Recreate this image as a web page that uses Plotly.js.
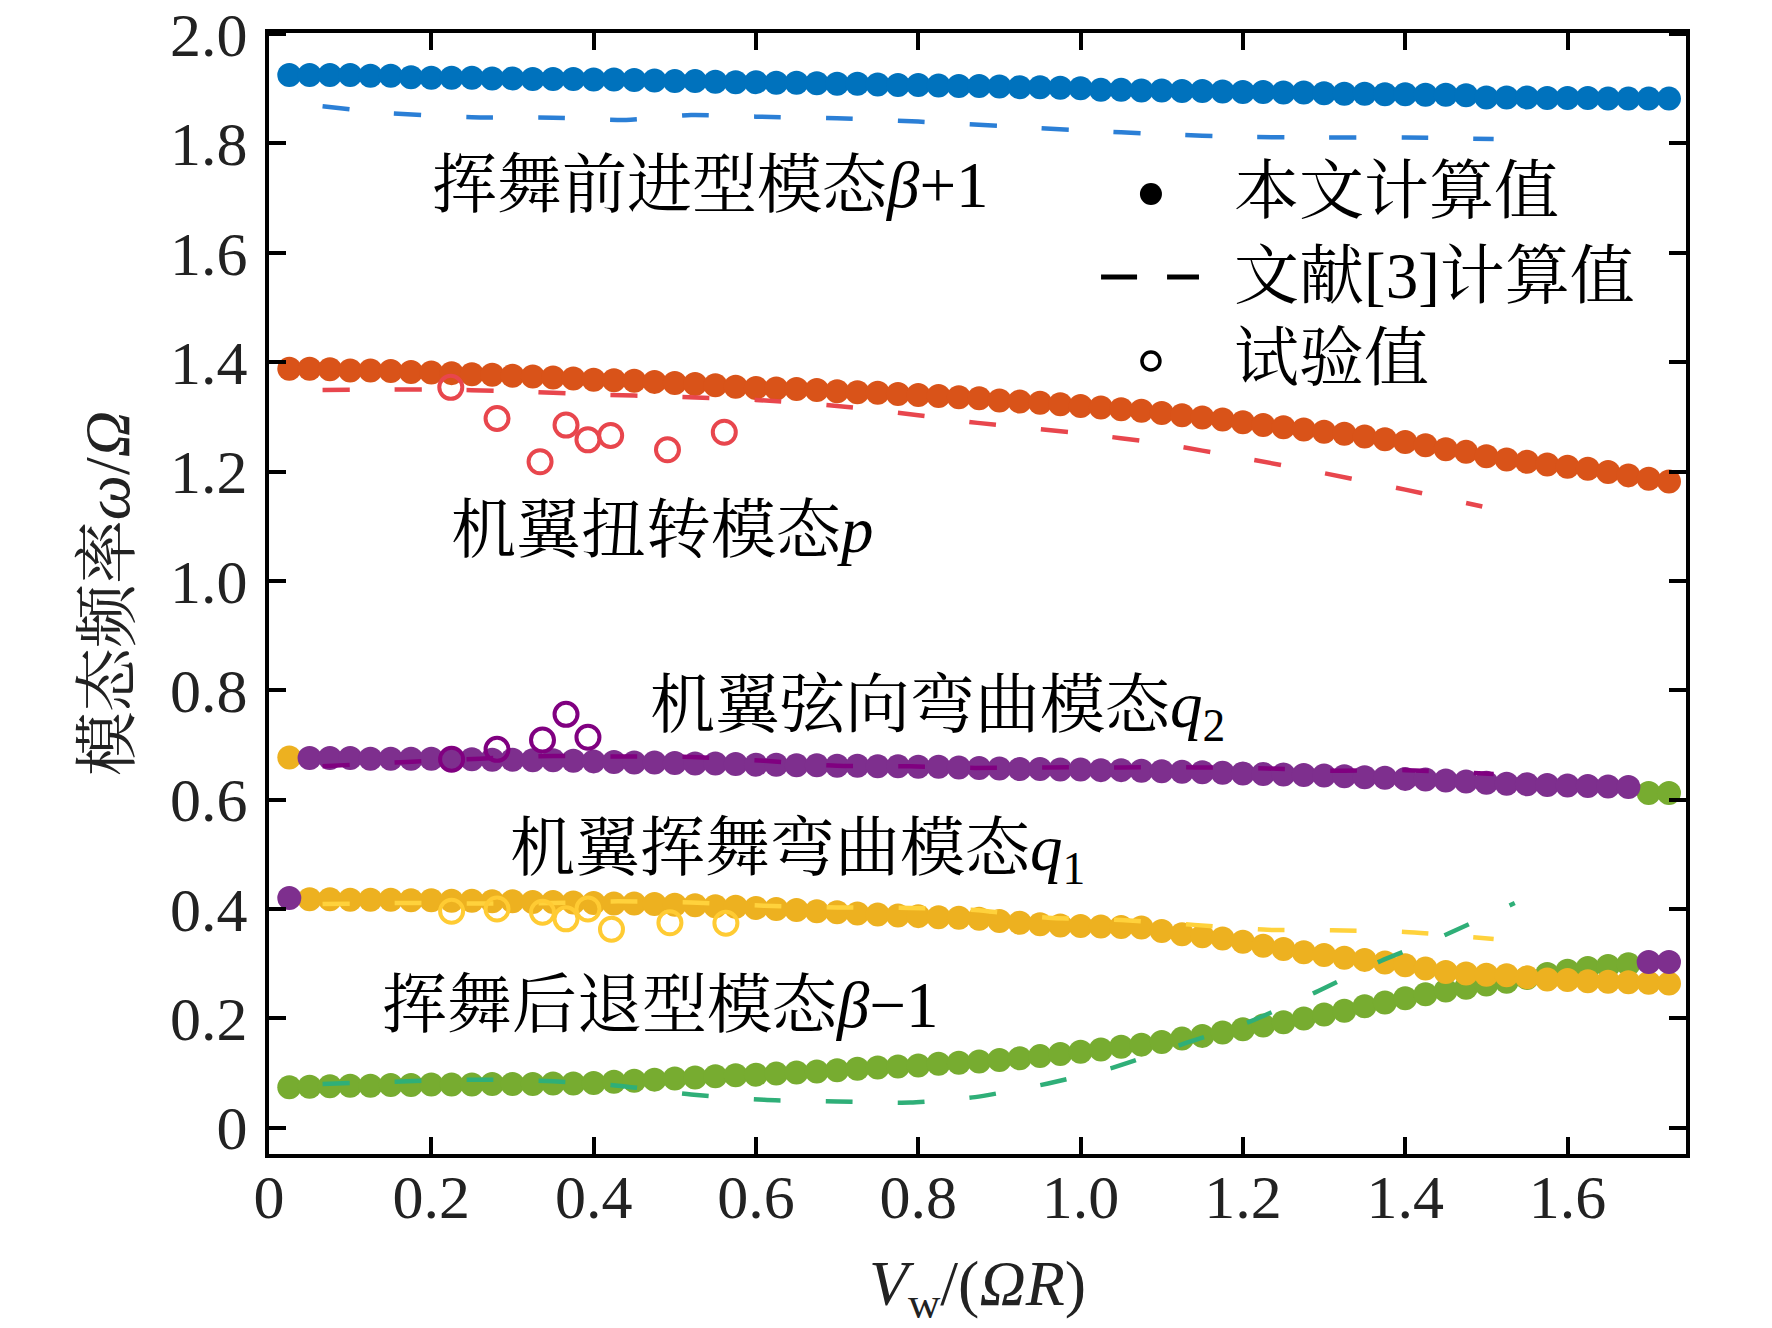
<!DOCTYPE html>
<html>
<head>
<meta charset="utf-8">
<script src="https://cdn.plot.ly/plotly-3.0.1.min.js"></script>
<style>
    html, body { margin: 0; padding: 0; background: #ffffff; }
    #main-screen { width: 1772px; height: 1328px; }
</style>
</head>
<body>
<div id="main-screen"></div>
<script>
// ------------------------------------------------------------------------------
// DATA

// advance ratio Vw/(ΩR) of the computed points
const vw = [
    0.025, 0.05, 0.075, 0.1, 0.125, 0.15, 0.175, 0.2, 0.225, 0.25,
    0.275, 0.3, 0.325, 0.35, 0.375, 0.4, 0.425, 0.45, 0.475, 0.5,
    0.525, 0.55, 0.575, 0.6, 0.625, 0.65, 0.675, 0.7, 0.725, 0.75,
    0.775, 0.8, 0.825, 0.85, 0.875, 0.9, 0.925, 0.95, 0.975, 1.0,
    1.025, 1.05, 1.075, 1.1, 1.125, 1.15, 1.175, 1.2, 1.225, 1.25,
    1.275, 1.3, 1.325, 1.35, 1.375, 1.4, 1.425, 1.45, 1.475, 1.5,
    1.525, 1.55, 1.575, 1.6, 1.625, 1.65, 1.675, 1.7, 1.725, 1.75
];

// computed values (this paper), one array per marker colour
const calc_blue = [
    1.925, 1.925, 1.925, 1.925, 1.924, 1.924, 1.921, 1.920, 1.920, 1.920,
    1.919, 1.919, 1.918, 1.918, 1.918, 1.917, 1.917, 1.916, 1.915, 1.914,
    1.914, 1.913, 1.912, 1.912, 1.911, 1.911, 1.910, 1.909, 1.909, 1.908,
    1.907, 1.907, 1.906, 1.905, 1.905, 1.904, 1.903, 1.903, 1.902, 1.901,
    1.898, 1.898, 1.897, 1.897, 1.896, 1.896, 1.895, 1.894, 1.894, 1.893,
    1.893, 1.892, 1.891, 1.891, 1.890, 1.890, 1.889, 1.889, 1.888, 1.884,
    1.884, 1.884, 1.883, 1.883, 1.883, 1.882, 1.882, 1.882, 1.882, 1.882
];
const calc_orange = [
    1.388, 1.388, 1.387, 1.385, 1.385, 1.384, 1.382, 1.381, 1.380, 1.378,
    1.377, 1.375, 1.374, 1.372, 1.370, 1.368, 1.367, 1.366, 1.364, 1.362,
    1.360, 1.358, 1.355, 1.353, 1.352, 1.351, 1.349, 1.347, 1.345, 1.344,
    1.342, 1.340, 1.338, 1.336, 1.334, 1.330, 1.328, 1.326, 1.323, 1.320,
    1.317, 1.314, 1.311, 1.307, 1.303, 1.299, 1.295, 1.290, 1.285, 1.281,
    1.277, 1.273, 1.269, 1.264, 1.259, 1.254, 1.248, 1.241, 1.236, 1.228,
    1.222, 1.218, 1.213, 1.209, 1.205, 1.199, 1.193, 1.187, 1.182, 1.179
];
const calc_purple = [
    0.420, 0.676, 0.676, 0.676, 0.675, 0.675, 0.675, 0.675, 0.674, 0.674,
    0.673, 0.673, 0.672, 0.672, 0.671, 0.670, 0.669, 0.668, 0.668, 0.667,
    0.666, 0.666, 0.665, 0.664, 0.664, 0.663, 0.663, 0.662, 0.662, 0.661,
    0.661, 0.660, 0.660, 0.659, 0.658, 0.657, 0.656, 0.656, 0.655, 0.655,
    0.654, 0.654, 0.653, 0.652, 0.651, 0.650, 0.649, 0.648, 0.647, 0.646,
    0.645, 0.644, 0.643, 0.641, 0.640, 0.638, 0.637, 0.635, 0.633, 0.631,
    0.629, 0.628, 0.627, 0.626, 0.625, 0.624, 0.623, 0.303, 0.303, 0.307
];
const calc_yellow = [
    0.677, 0.418, 0.418, 0.417, 0.417, 0.417, 0.416, 0.416, 0.415, 0.415,
    0.414, 0.414, 0.413, 0.413, 0.412, 0.411, 0.410, 0.410, 0.409, 0.408,
    0.407, 0.405, 0.404, 0.402, 0.400, 0.398, 0.396, 0.394, 0.392, 0.390,
    0.388, 0.387, 0.385, 0.384, 0.382, 0.378, 0.375, 0.372, 0.370, 0.369,
    0.368, 0.367, 0.366, 0.360, 0.354, 0.350, 0.346, 0.340, 0.333, 0.327,
    0.321, 0.316, 0.311, 0.307, 0.302, 0.297, 0.291, 0.285, 0.282, 0.280,
    0.279, 0.275, 0.271, 0.270, 0.268, 0.267, 0.266, 0.265, 0.264, 0.263
];
const calc_green = [
    0.074, 0.075, 0.076, 0.077, 0.077, 0.078, 0.078, 0.079, 0.079, 0.079,
    0.080, 0.080, 0.080, 0.081, 0.081, 0.082, 0.084, 0.086, 0.088, 0.090,
    0.092, 0.094, 0.096, 0.097, 0.099, 0.101, 0.103, 0.105, 0.108, 0.110,
    0.112, 0.114, 0.117, 0.119, 0.121, 0.124, 0.127, 0.131, 0.135, 0.139,
    0.143, 0.148, 0.152, 0.157, 0.163, 0.168, 0.174, 0.180, 0.187, 0.193,
    0.200, 0.207, 0.214, 0.222, 0.229, 0.237, 0.244, 0.251, 0.256, 0.262,
    0.267, 0.274, 0.281, 0.287, 0.292, 0.296, 0.299, 0.612, 0.612, 0.610
];

// reference [3] curves
const ref_blue_x   = [0.066, 0.15, 0.25, 0.35, 0.44, 0.52, 0.6, 0.7, 0.8, 0.9, 1.0, 1.1, 1.2, 1.3, 1.4, 1.509];
const ref_blue_y   = [1.868, 1.855, 1.848, 1.847, 1.843, 1.852, 1.849, 1.846, 1.840, 1.832, 1.824, 1.817, 1.812, 1.811, 1.811, 1.808];
const ref_red_x    = [0.066, 0.2, 0.3, 0.4, 0.5, 0.6, 0.7, 0.8, 0.873, 1.0, 1.1, 1.2, 1.3, 1.4, 1.495];
const ref_red_y    = [1.349, 1.350, 1.347, 1.341, 1.337, 1.331, 1.320, 1.303, 1.289, 1.270, 1.251, 1.225, 1.197, 1.167, 1.136];
const ref_purple_x = [0.066, 0.17, 0.26, 0.35, 0.43, 0.52, 0.61, 0.7, 0.79, 0.87, 0.96, 1.05, 1.14, 1.23, 1.31, 1.40, 1.509];
const ref_purple_y = [0.661, 0.669, 0.675, 0.680, 0.679, 0.678, 0.671, 0.662, 0.661, 0.658, 0.659, 0.659, 0.659, 0.657, 0.653, 0.654, 0.647];
const ref_yellow_x = [0.066, 0.17, 0.26, 0.35, 0.43, 0.52, 0.61, 0.7, 0.79, 0.87, 0.96, 1.05, 1.14, 1.23, 1.31, 1.40, 1.509];
const ref_yellow_y = [0.409, 0.411, 0.410, 0.411, 0.414, 0.412, 0.406, 0.403, 0.402, 0.398, 0.384, 0.380, 0.371, 0.362, 0.361, 0.358, 0.345];
const ref_green_x  = [0.066, 0.17, 0.26, 0.35, 0.43, 0.52, 0.61, 0.7, 0.79, 0.87, 0.96, 1.04, 1.13, 1.21, 1.29, 1.37, 1.45, 1.535];
const ref_green_y  = [0.080, 0.085, 0.088, 0.085, 0.077, 0.061, 0.051, 0.048, 0.046, 0.056, 0.081, 0.110, 0.155, 0.195, 0.248, 0.305, 0.353, 0.411];

// test values
const test_red_x    = [0.224, 0.281, 0.334, 0.366, 0.393, 0.421, 0.491, 0.561];
const test_red_y    = [1.354, 1.297, 1.218, 1.285, 1.258, 1.266, 1.240, 1.272];
const test_purple_x = [0.225, 0.281, 0.337, 0.366, 0.393];
const test_purple_y = [0.674, 0.692, 0.709, 0.756, 0.714];
const test_yellow_x = [0.225, 0.281, 0.337, 0.366, 0.393, 0.422, 0.494, 0.563];
const test_yellow_y = [0.396, 0.400, 0.394, 0.382, 0.400, 0.363, 0.375, 0.374];

// axis ticks
const x_ticks  = [0, 0.2, 0.4, 0.6, 0.8, 1.0, 1.2, 1.4, 1.6];
const x_labels = ['0', '0.2', '0.4', '0.6', '0.8', '1.0', '1.2', '1.4', '1.6'];
const y_ticks  = [0, 0.2, 0.4, 0.6, 0.8, 1.0, 1.2, 1.4, 1.6, 1.8, 2.0];
const y_labels = ['0', '0.2', '0.4', '0.6', '0.8', '1.0', '1.2', '1.4', '1.6', '1.8', '2.0'];

// ------------------------------------------------------------------------------
// PARAMETERS

const font_family = '"Liberation Serif", "Noto Serif CJK SC", "Noto Sans CJK SC", serif';
const dot_size    = 24;
const ring_size   = 23;
const dash_style  = '27px,45px';

const displayConfig = {
    displayModeBar: false,
    responsive: false
};

// ------------------------------------------------------------------------------
// TRACES

function dots(y, color) {
    return {
        x: vw, y: y,
        mode: 'markers', type: 'scatter',
        marker: { color: color, size: dot_size, line: { width: 0 } },
        cliponaxis: false,
        hoverinfo: 'none', showlegend: false
    };
}

function dashed(x, y, color) {
    return {
        x: x, y: y,
        mode: 'lines', type: 'scatter',
        line: { color: color, width: 4.5, dash: dash_style, shape: 'spline', smoothing: 0.6 },
        hoverinfo: 'none', showlegend: false
    };
}

function rings(x, y, color) {
    return {
        x: x, y: y,
        mode: 'markers', type: 'scatter',
        marker: { symbol: 'circle-open', color: color, size: ring_size, line: { color: color, width: 4 } },
        cliponaxis: false,
        hoverinfo: 'none', showlegend: false
    };
}

const traces = [
    dots(calc_blue,   '#0072BD'),
    dots(calc_orange, '#D95319'),
    dots(calc_green,  '#77AC30'),
    dots(calc_yellow, '#EDB120'),
    dots(calc_purple, '#7E2F8E'),
    dashed(ref_blue_x,   ref_blue_y,   '#2B7FD6'),
    dashed(ref_red_x,    ref_red_y,    '#E8464D'),
    dashed(ref_purple_x, ref_purple_y, '#800080'),
    dashed(ref_yellow_x, ref_yellow_y, '#FFD23C'),
    dashed(ref_green_x,  ref_green_y,  '#2FAF78'),
    rings(test_red_x,    test_red_y,    '#E8464D'),
    rings(test_purple_x, test_purple_y, '#800080'),
    rings(test_yellow_x, test_yellow_y, '#FFCB33')
];

// ------------------------------------------------------------------------------
// LABELS AND LEGEND

function modeLabel(text, x, y) {
    return {
        text: text, x: x, y: y,
        xref: 'x', yref: 'y',
        xanchor: 'left', yanchor: 'middle',
        showarrow: false,
        font: { family: font_family, size: 65, color: '#000000' }
    };
}

function legendText(text, y) {
    return {
        text: text, x: 0.6796, y: y,
        xref: 'paper', yref: 'paper',
        xanchor: 'left', yanchor: 'middle',
        showarrow: false,
        font: { family: font_family, size: 65, color: '#000000' }
    };
}

const annotations = [
    modeLabel('挥舞前进型模态<i>β</i>+1', 0.198, 1.724),
    modeLabel('机翼扭转模态<i>p</i>', 0.222, 1.093),
    modeLabel('机翼弦向弯曲模态<i>q</i><sub>2</sub>', 0.467, 0.764),
    modeLabel('机翼挥舞弯曲模态<i>q</i><sub>1</sub>', 0.294, 0.503),
    modeLabel('挥舞后退型模态<i>β</i>−1', 0.137, 0.225),
    legendText('本文计算值', 0.8591),
    legendText('文献[3]计算值', 0.7832),
    legendText('试验值', 0.7101)
];

const shapes = [
    {
        type: 'circle', xref: 'paper', yref: 'paper',
        xsizemode: 'pixel', ysizemode: 'pixel',
        xanchor: 0.6224, yanchor: 0.8564,
        x0: -11, x1: 11, y0: -11, y1: 11,
        fillcolor: '#000000', line: { width: 0 }
    },
    {
        type: 'line', xref: 'paper', yref: 'paper',
        x0: 0.5872, x1: 0.6563, y0: 0.7823, y1: 0.7823,
        line: { color: '#000000', width: 5, dash: '36px,30px' }
    },
    {
        type: 'circle', xref: 'paper', yref: 'paper',
        xsizemode: 'pixel', ysizemode: 'pixel',
        xanchor: 0.6224, yanchor: 0.7074,
        x0: -9, x1: 9, y0: -9, y1: 9,
        line: { color: '#000000', width: 3.5 }
    }
];

// ------------------------------------------------------------------------------
// LAYOUT

const axis_common = {
    showline: true,
    linecolor: '#000000',
    linewidth: 4,
    mirror: 'ticks',
    ticks: 'inside',
    ticklen: 17,
    tickwidth: 4,
    tickcolor: '#000000',
    showgrid: false,
    zeroline: false,
    tickfont: { family: font_family, size: 62, color: '#222222' }
};

const layout = {
    width: 1772,
    height: 1328,
    paper_bgcolor: '#ffffff',
    plot_bgcolor: '#ffffff',
    showlegend: false,
    margin: { l: 269, r: 86, t: 33, b: 174, pad: 0 },
    xaxis: Object.assign({}, axis_common, {
        range: [0, 1.746],
        tickmode: 'array',
        tickvals: x_ticks,
        ticktext: x_labels,
        ticklabelstandoff: -14,
        title: {
            text: '<i>V</i><sub>w</sub>/(<i>ΩR</i>)',
            font: { family: font_family, size: 64, color: '#222222' },
            standoff: 50
        }
    }),
    yaxis: Object.assign({}, axis_common, {
        range: [-0.048, 2.002],
        tickmode: 'array',
        tickvals: y_ticks,
        ticktext: y_labels,
        ticklabelstandoff: 5,
        title: {
            text: '模态频率<i>ω</i>/<i>Ω</i>',
            font: { family: font_family, size: 64, color: '#222222' },
            standoff: 21
        }
    }),
    annotations: annotations,
    shapes: shapes
};

Plotly.newPlot('main-screen', traces, layout, displayConfig);
</script>
</body>
</html>
